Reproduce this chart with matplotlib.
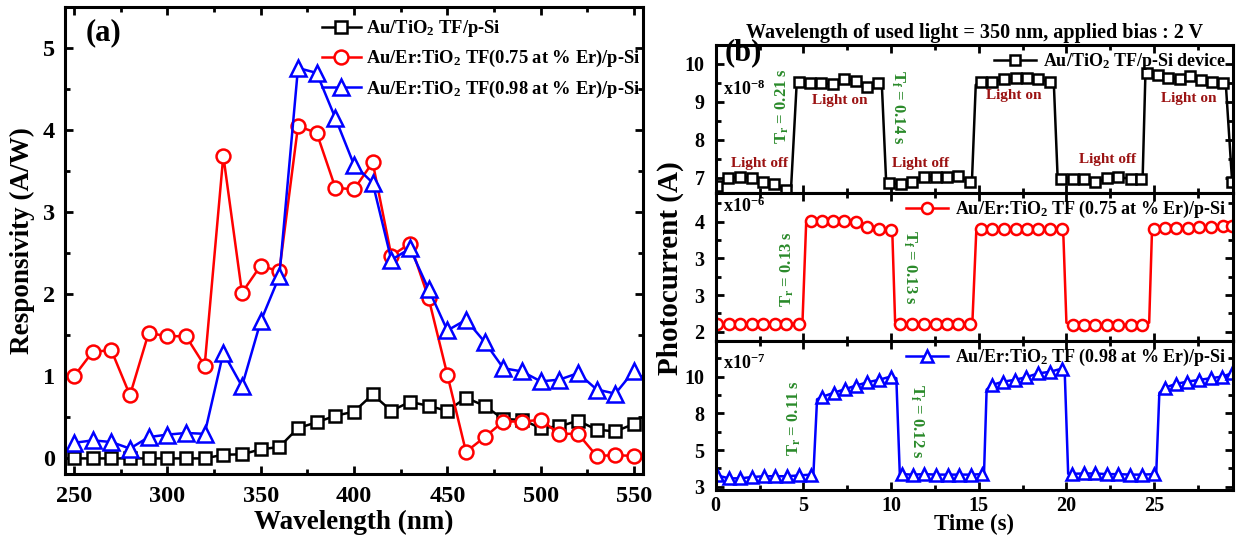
import matplotlib
matplotlib.use('Agg')
import matplotlib.pyplot as plt
import numpy as np
from matplotlib.ticker import FixedLocator, MultipleLocator, FixedFormatter

# ---------------- data ----------------
# (a) responsivity vs wavelength
wavelength = np.arange(250, 551, 10)
resp_tio2 = [0.0, 0.0, 0.0, 0.0, 0.0, 0.0, 0.0, 0.0, 0.045, 0.05, 0.11, 0.14, 0.37, 0.44,
             0.52, 0.57, 0.78, 0.58, 0.69, 0.64, 0.58, 0.74, 0.64, 0.48, 0.47, 0.37, 0.39,
             0.46, 0.35, 0.33, 0.42]
resp_075 = [1.0, 1.30, 1.32, 0.77, 1.53, 1.49, 1.49, 1.13, 3.69, 2.02, 2.35, 2.28, 4.05, 3.97,
            3.30, 3.28, 3.61, 2.47, 2.62, 1.95, 1.02, 0.08, 0.26, 0.45, 0.45, 0.47, 0.30,
            0.30, 0.03, 0.04, 0.03]
resp_098 = [0.19, 0.22, 0.20, 0.12, 0.26, 0.29, 0.31, 0.30, 1.29, 0.88, 1.67, 2.22, 4.76, 4.70,
            4.15, 3.58, 3.36, 2.42, 2.56, 2.06, 1.56, 1.69, 1.42, 1.10, 1.06, 0.94, 0.96,
            1.04, 0.84, 0.79, 1.07]
labels_a = [r"Au/TiO$_2$ TF/p-Si",
            r"Au/Er:TiO$_2$ TF(0.75 at % Er)/p-Si",
            r"Au/Er:TiO$_2$ TF(0.98 at % Er)/p-Si"]

# (b) photocurrent vs time (marker points + unmarked points on the switching edges)
t_tio2 = [0.08, 0.72, 1.41, 2.05, 2.69, 3.33, 4.02,
          4.77, 5.37, 6.01, 6.70, 7.34, 7.98, 8.62, 9.27,
          9.91, 10.58, 11.22, 11.90, 12.55, 13.19, 13.83, 14.51,
          15.11, 15.76, 16.44, 17.11, 17.75, 18.39, 19.07,
          19.67, 20.35, 20.99, 21.65, 22.33, 22.97, 23.66, 24.25,
          24.60, 25.20, 25.80, 26.45, 27.05, 27.70, 28.30, 28.93, 29.45]
i_tio2 = [6.79, 6.99, 7.03, 6.99, 6.90, 6.83, 6.68,
          9.53, 9.51, 9.49, 9.47, 9.61, 9.55, 9.39, 9.51,
          6.86, 6.83, 6.90, 7.03, 7.01, 7.01, 7.06, 6.90,
          9.53, 9.53, 9.60, 9.62, 9.62, 9.60, 9.53,
          6.98, 6.98, 6.98, 6.88, 6.99, 7.01, 6.98, 6.98,
          9.77, 9.71, 9.64, 9.60, 9.67, 9.58, 9.53, 9.51, 6.90]
t_tio2_edge = [4.30, 4.62, 9.48, 9.72, 14.62, 14.83, 19.29, 19.50, 24.35, 24.50, 29.10]
i_tio2_edge = [6.75, 9.50, 9.40, 6.90, 7.00, 9.45, 9.40, 7.00, 7.05, 9.65, 9.40]

t_075 = [0.08, 0.74, 1.41, 2.05, 2.69, 3.38, 4.02, 4.73,
         5.41, 6.06, 6.70, 7.34, 7.98, 8.65, 9.29, 9.97,
         10.51, 11.22, 11.90, 12.55, 13.19, 13.83, 14.51,
         15.11, 15.76, 16.44, 17.11, 17.75, 18.39, 19.07, 19.72,
         20.36, 21.00, 21.65, 22.33, 22.97, 23.66, 24.30,
         24.97, 25.61, 26.25, 26.94, 27.58, 28.22, 28.93, 29.46]
i_075 = [2.33, 2.33, 2.33, 2.33, 2.33, 2.33, 2.33, 2.33,
         4.02, 4.02, 4.01, 4.01, 3.99, 3.92, 3.88, 3.86,
         2.33, 2.33, 2.33, 2.33, 2.33, 2.33, 2.33,
         3.88, 3.88, 3.88, 3.88, 3.88, 3.88, 3.88, 3.88,
         2.31, 2.31, 2.31, 2.31, 2.31, 2.31, 2.31,
         3.88, 3.89, 3.89, 3.90, 3.91, 3.92, 3.93, 3.93]
t_075_edge = [4.95, 5.16, 10.08, 10.23, 14.64, 14.86, 19.83, 20.00, 24.72, 24.88]
i_075_edge = [2.37, 3.99, 3.75, 2.37, 2.37, 3.85, 3.75, 2.35, 2.35, 3.85]

t_098 = [0.08, 0.76, 1.41, 2.05, 2.74, 3.38, 4.06, 4.75, 5.43,
         6.09, 6.72, 7.36, 8.00, 8.65, 9.29, 9.97,
         10.60, 11.25, 11.90, 12.56, 13.22, 13.88, 14.55, 15.20,
         15.76, 16.40, 17.04, 17.68, 18.39, 19.07, 19.76,
         20.32, 20.98, 21.65, 22.31, 22.97, 23.64, 24.30, 25.02,
         25.61, 26.25, 26.89, 27.58, 28.22, 28.86, 29.42]
i_098 = [3.90, 3.72, 3.72, 3.80, 3.85, 3.85, 3.85, 3.90, 3.95,
         8.76, 9.00, 9.22, 9.45, 9.65, 9.80, 10.00,
         3.98, 3.95, 3.98, 3.95, 3.95, 3.95, 3.95, 3.98,
         9.49, 9.69, 9.80, 9.96, 10.20, 10.30, 10.50,
         4.00, 4.02, 4.02, 3.98, 3.98, 3.95, 3.95, 3.98,
         9.32, 9.55, 9.69, 9.80, 9.90, 10.00, 10.20]
t_098_edge = [5.57, 5.78, 10.30, 10.50, 15.30, 15.45, 19.90, 20.10, 25.12, 25.30]
i_098_edge = [3.95, 8.60, 9.90, 3.95, 3.98, 9.20, 10.40, 4.00, 3.98, 9.00]

labels_b = [r"Au/TiO$_2$ TF/p-Si device",
            r"Au/Er:TiO$_2$ TF (0.75 at % Er)/p-Si",
            r"Au/Er:TiO$_2$ TF (0.98 at % Er)/p-Si"]

# ---------------- style ----------------
plt.rcParams['font.family'] = ['Liberation Serif', 'DejaVu Serif']
plt.rcParams['font.weight'] = 'bold'
plt.rcParams['axes.labelweight'] = 'bold'
plt.rcParams['axes.titleweight'] = 'bold'
plt.rcParams['mathtext.fontset'] = 'custom'
plt.rcParams['mathtext.rm'] = 'Liberation Serif:bold'
plt.rcParams['mathtext.bf'] = 'Liberation Serif:bold'
plt.rcParams['mathtext.it'] = 'Liberation Serif:bold'
plt.rcParams['mathtext.default'] = 'bf'
plt.rcParams['axes.linewidth'] = 2.2
plt.rcParams['legend.numpoints'] = 1

LIGHT = '#9b1212'
GREEN = '#2a8a2a'


def frame(ax, size):
    ax.tick_params(which='both', direction='in', top=True, right=True, width=2,
                   labelsize=size)
    ax.tick_params(which='major', length=6)
    ax.tick_params(which='minor', length=3.5)


def pulse(ax, t, i, te, ie, **kw):
    tt = np.concatenate([t, te])
    ii = np.concatenate([i, ie])
    mk = np.concatenate([np.ones(len(t), bool), np.zeros(len(te), bool)])
    o = np.argsort(tt)
    return ax.plot(tt[o], ii[o], markevery=list(mk[o]), **kw)


fig = plt.figure(figsize=(12.41, 5.4), dpi=100)

# ---------------- (a) ----------------
axa = fig.add_axes([65 / 1241, 1 - 474 / 540, 578 / 1241, 466.7 / 540])
axa.plot(wavelength, resp_tio2, '-s', color='black', lw=1.8, ms=8, mew=1.8,
         mfc='white', label=labels_a[0])
axa.plot(wavelength, resp_075, '-o', color='red', lw=1.8, ms=10, mew=1.8,
         mfc='white', label=labels_a[1])
axa.plot(wavelength, resp_098, '-^', color='blue', lw=1.8, ms=11, mew=1.8,
         mfc='white', label=labels_a[2])
axa.set_xlim(245.2, 554.8)
axa.set_ylim(-0.19, 5.5)
axa.xaxis.set_major_locator(MultipleLocator(50))
axa.xaxis.set_minor_locator(MultipleLocator(25))
axa.yaxis.set_major_locator(MultipleLocator(1))
axa.yaxis.set_minor_locator(MultipleLocator(0.5))
frame(axa, 17.5)
axa.tick_params(axis='x', pad=9)
axa.tick_params(axis='y', pad=7)
axa.set_xlabel('Wavelength (nm)', fontsize=19.5, labelpad=2)
axa.set_ylabel('Responsivity (A/W)', fontsize=19.5, labelpad=6)
axa.text(0.036, 0.945, '(a)', transform=axa.transAxes, fontsize=22,
         ha='left', va='center')
axa.legend(loc='upper left', bbox_to_anchor=(322 / 1241, 1 - 18 / 540),
           bbox_transform=fig.transFigure, frameon=False, fontsize=13.3,
           handlelength=2.1, handletextpad=0.3, labelspacing=0.5,
           borderpad=0, borderaxespad=0)

# ---------------- (b) ----------------
L, W = 715.7 / 1241, 517.3 / 1241
ax1 = fig.add_axes([L, 1 - 193 / 540, W, 148 / 540])
ax2 = fig.add_axes([L, 1 - 341 / 540, W, 148 / 540])
ax3 = fig.add_axes([L, 1 - 490 / 540, W, 149 / 540])

pulse(ax1, t_tio2, i_tio2, t_tio2_edge, i_tio2_edge, color='black', marker='s',
      lw=1.8, ms=7, mew=1.8, mfc='white', label=labels_b[0])
pulse(ax2, t_075, i_075, t_075_edge, i_075_edge, color='red', marker='o',
      lw=1.8, ms=8, mew=1.8, mfc='white', label=labels_b[1])
pulse(ax3, t_098, i_098, t_098_edge, i_098_edge, color='blue', marker='^',
      lw=1.8, ms=9, mew=1.8, mfc='white', label=labels_b[2])

ax1.set_ylim(6.6, 10.5)
ax1.yaxis.set_major_locator(FixedLocator([7, 8, 9, 10]))
ax1.yaxis.set_minor_locator(FixedLocator([7.5, 8.5, 9.5]))
ax2.set_ylim(2.05, 4.47)
ax2.yaxis.set_major_locator(FixedLocator([2.2, 2.8, 3.4, 4.0]))
ax2.yaxis.set_major_formatter(FixedFormatter(['2', '3', '3', '4']))
ax2.yaxis.set_minor_locator(FixedLocator([2.5, 3.1, 3.7, 4.3]))
ax3.set_ylim(3.0, 12.2)
ax3.yaxis.set_major_locator(FixedLocator([3.2, 5.4667, 7.7333, 10.0]))
ax3.yaxis.set_major_formatter(FixedFormatter(['3', '5', '8', '10']))
ax3.yaxis.set_minor_locator(FixedLocator([4.33, 6.6, 8.87, 11.13]))

for ax in (ax1, ax2, ax3):
    ax.set_xlim(0, 29.5)
    ax.xaxis.set_major_locator(MultipleLocator(5))
    ax.xaxis.set_minor_locator(MultipleLocator(2.5))
    frame(ax, 14.5)
    ax.tick_params(axis='y', pad=8)
    ax.legend(loc='upper right', frameon=False, fontsize=13, handlelength=2.3,
              handletextpad=0.4, borderaxespad=0.25, borderpad=0.1)
for ax in (ax1, ax2):
    ax.tick_params(axis='x', labelbottom=False)
ax3.tick_params(axis='x', pad=4)
ax3.set_xlabel('Time (s)', fontsize=16.5, labelpad=-1)

ax1.set_title('Wavelength of used light = 350 nm, applied bias : 2 V',
              fontsize=14.5, pad=5)
fig.text(670 / 1241, 1 - 268 / 540, 'Photocurrent (A)', rotation=90,
         fontsize=21, ha='center', va='center')

ax1.text(0.018, 0.946, '(b)', transform=ax1.transAxes, fontsize=22,
         ha='left', va='center')
ax1.text(0.014, 0.70, r'x10$^{-8}$', transform=ax1.transAxes, fontsize=13,
         ha='left', va='center')
ax2.text(0.014, 0.907, r'x10$^{-6}$', transform=ax2.transAxes, fontsize=13,
         ha='left', va='center')
ax3.text(0.014, 0.852, r'x10$^{-7}$', transform=ax3.transAxes, fontsize=13,
         ha='left', va='center')

# light on / off notes
for x, y, s in [(2.5, 7.39, 'Light off'), (7.06, 9.05, 'Light on'),
                (11.7, 7.39, 'Light off'), (17.0, 9.16, 'Light on'),
                (22.35, 7.47, 'Light off'), (26.97, 9.1, 'Light on')]:
    ax1.text(x, y, s, color=LIGHT, fontsize=11, ha='center', va='center')

# rise / fall times
for ax, x, y, s, rot in [(ax1, 3.77, 8.9, r'T$_r$ = 0.21 s', 90),
                         (ax1, 10.4, 8.87, r'T$_f$ = 0.14 s', -90),
                         (ax2, 4.08, 3.23, r'T$_r$ = 0.13 s', 90),
                         (ax2, 11.04, 3.26, r'T$_f$ = 0.13 s', -90),
                         (ax3, 4.5, 7.45, r'T$_r$ = 0.11 s', 90),
                         (ax3, 11.47, 7.23, r'T$_f$ = 0.12 s', -90)]:
    ax.text(x, y, s, color=GREEN, fontsize=12, rotation=rot,
            ha='center', va='center')

fig.savefig('out.png', dpi=100)
